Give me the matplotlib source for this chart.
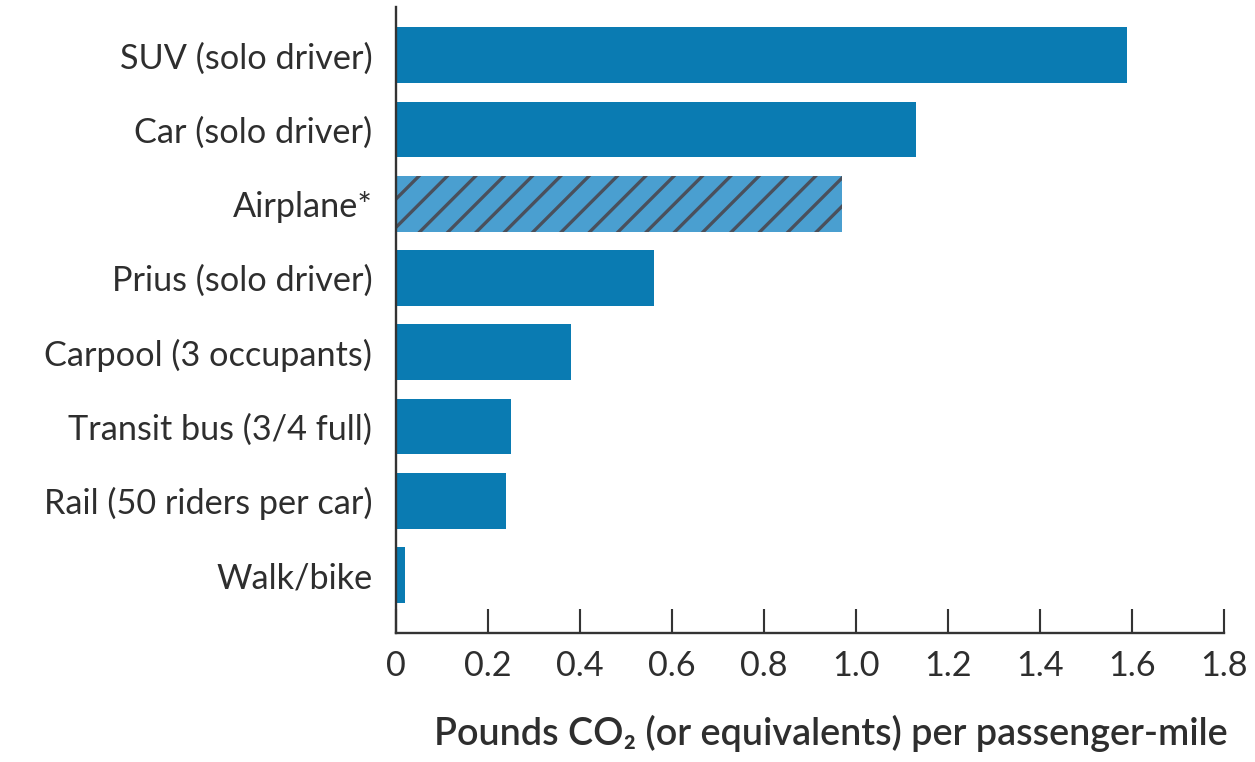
import numpy as np
import matplotlib.pyplot as plt

# Emissions per passenger-mile by travel mode
modes = ['SUV (solo driver)', 'Car (solo driver)', 'Airplane*', 'Prius (solo driver)',
         'Carpool (3 occupants)', 'Transit bus (3/4 full)', 'Rail (50 riders per car)',
         'Walk/bike']
pounds_co2 = [1.59, 1.13, 0.97, 0.56, 0.38, 0.25, 0.24, 0.02]
hatched = [False, False, True, False, False, False, False, False]

bar_color = '#0a7bb2'
hatch_face = '#4a9fd0'
hatch_line = '#4a505c'
text_color = '#2e2e2e'

plt.rcParams['font.family'] = ['Lato', 'DejaVu Sans']
plt.rcParams['hatch.color'] = hatch_line
plt.rcParams['hatch.linewidth'] = 1.4

fig = plt.figure(figsize=(1255 / 170, 762 / 170), dpi=170)
ax = fig.add_axes([0.3155, 0.1693, 0.6598, 0.8215])

y = np.arange(len(modes))
for i in range(len(modes)):
    if hatched[i]:
        ax.barh(y[i], pounds_co2[i], height=0.75, color=hatch_face,
                hatch='//', edgecolor=hatch_line, linewidth=0)
    else:
        ax.barh(y[i], pounds_co2[i], height=0.75, color=bar_color, linewidth=0)

ax.set_ylim(len(modes) - 1 + 0.78, -0.65)
ax.set_xlim(0, 1.8)

ax.set_yticks(y)
ax.set_yticklabels(modes, fontsize=14.5, color=text_color)
ax.tick_params(axis='y', length=0, pad=10)

ticks = np.arange(0, 1.81, 0.2)
ax.set_xticks(ticks)
ax.set_xticklabels(['0'] + ['%.1f' % t for t in ticks[1:]], fontsize=14.5,
                   color=text_color)
ax.tick_params(axis='x', direction='in', length=10, width=0.9, color='#333333',
               pad=7)

for side in ['top', 'right']:
    ax.spines[side].set_visible(False)
for side in ['left', 'bottom']:
    ax.spines[side].set_linewidth(1.0)
    ax.spines[side].set_color('#333333')

ax.set_xlabel('Pounds CO₂ (or equivalents) per passenger-mile', fontsize=16,
              fontweight='semibold', color=text_color)
ax.xaxis.set_label_coords(0.525, -0.13)

fig.savefig('out.png', dpi=170)
